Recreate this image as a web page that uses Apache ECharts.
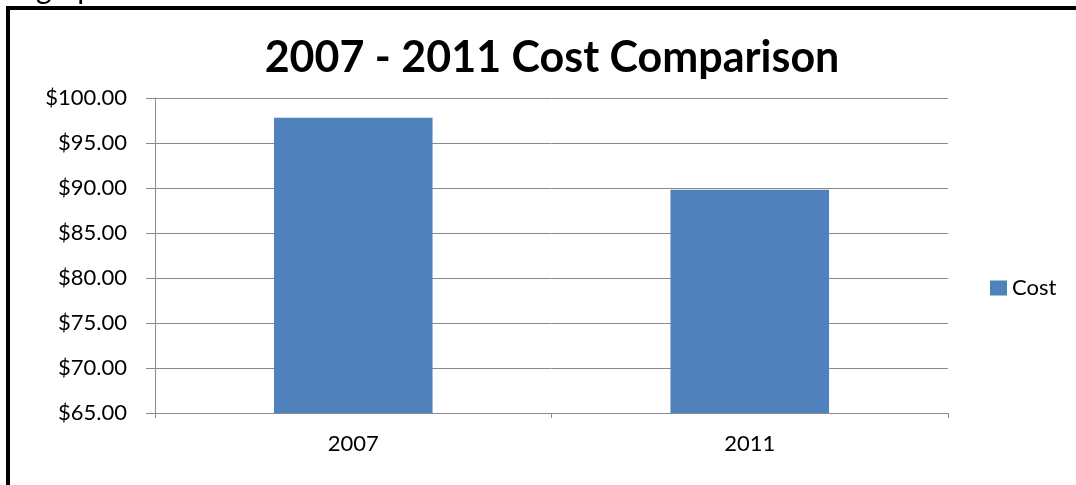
<!DOCTYPE html>
<html>
<head>
<meta charset="utf-8">
<script src="https://cdn.jsdelivr.net/npm/echarts@6/dist/echarts.min.js"></script>
<style>
  html, body { margin: 0; padding: 0; background: #fff; }
  #chart { width: 1076px; height: 485px; }
</style>
</head>
<body>
<div id="chart"></div>
<script>
'use strict';
// data
var years = ['2007', '2011'];
var costs = [97.8, 89.8];
var yMin = 65, yMax = 100, yStep = 5;

var chart = echarts.init(document.getElementById('chart'));
var gray = '#8a8a8a';

chart.setOption({
    animation: false,
    backgroundColor: '#fff',
    title: {
        text: '2007 - 2011 Cost Comparison',
        left: 547,
        textAlign: 'center',
        top: 32,
        textStyle: { fontFamily: 'Lato', fontWeight: 'bold', fontSize: 43, color: '#000' }
    },
    legend: {
        data: ['Cost'],
        left: 985,
        top: 272,
        itemWidth: 17,
        itemHeight: 15,
        itemGap: 5,
        icon: 'rect',
        textStyle: { fontFamily: 'Lato', fontSize: 22, color: '#000' }
    },
    grid: { left: 155, right: 128, top: 98, bottom: 72, containLabel: false },
    xAxis: {
        type: 'category',
        data: years,
        axisLine: { lineStyle: { color: gray, width: 1 } },
        axisTick: { show: true, length: 5, lineStyle: { color: gray } },
        axisLabel: { margin: 20, fontFamily: 'Lato', fontSize: 22, color: '#000' }
    },
    yAxis: {
        type: 'value',
        min: yMin,
        max: yMax,
        interval: yStep,
        axisLine: { show: true, lineStyle: { color: gray, width: 1 } },
        axisTick: { show: true, length: 9, lineStyle: { color: gray } },
        splitLine: { show: true, lineStyle: { color: gray, width: 1 } },
        axisLabel: {
            margin: 28,
            fontFamily: 'Lato',
            fontSize: 22,
            color: '#000',
            formatter: function(v) { return '$' + v.toFixed(2); }
        }
    },
    series: [{
        name: 'Cost',
        type: 'bar',
        data: costs,
        barWidth: '40%',
        itemStyle: { color: '#4f81bd' }
    }],
    graphic: [
        {
            type: 'rect',
            shape: { x: 8, y: 8, width: 1200, height: 600 },
            style: { fill: 'none', stroke: '#000', lineWidth: 4 },
            z: 100
        },
        {
            // caption above the framed chart, cut off by the top edge
            type: 'text',
            left: 36,
            top: -26,
            style: { text: 'graph', font: '30px Lato', fill: '#000' },
            z: 99
        }
    ]
});
</script>
</body>
</html>
